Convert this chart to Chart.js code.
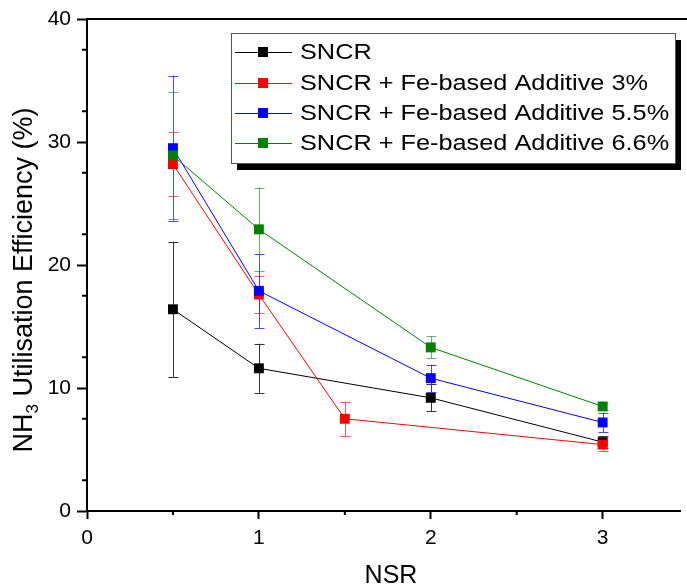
<!DOCTYPE html>
<html lang="en">
<head>
    <meta charset="UTF-8">
    <title>NH3 Utilisation Efficiency vs NSR</title>
    <style>
        html, body {
            margin: 0;
            padding: 0;
            background-color: #ffffff;
        }
        .chart-container {
            position: relative;
            width: 687px;
            height: 587px;
        }
    </style>
</head>
<body>
    <div class="chart-container">
        <canvas id="nsrChart"></canvas>
    </div>
    <script src="https://cdn.jsdelivr.net/npm/chart.js"></script>
    <script>
        // values (NSR on x, efficiency % on y, +/- error)
        const sncrNsr = [0.5, 1, 2, 3];
        const sncrEff = [16.4, 11.6, 9.2, 5.6];
        const sncrErr = [5.5, 2.0, 1.1, 0.5];

        const fe3Nsr = [0.5, 1, 1.5, 3];
        const fe3Eff = [28.2, 17.6, 7.5, 5.4];
        const fe3Err = [2.6, 1.5, 1.4, 0.5];

        const fe55Nsr = [0.5, 1, 2, 3];
        const fe55Eff = [29.5, 17.9, 10.8, 7.2];
        const fe55Err = [5.9, 3.0, 1.1, 0.8];

        const fe66Nsr = [0.5, 1, 2, 3];
        const fe66Eff = [28.9, 22.9, 13.3, 8.5];
        const fe66Err = [5.2, 3.4, 0.9, 0.3];

        const seriesLabels = [
            'SNCR',
            'SNCR + Fe-based Additive 3%',
            'SNCR + Fe-based Additive 5.5%',
            'SNCR + Fe-based Additive 6.6%'
        ];
        const xTicks = [0, 1, 2, 3];
        const yTicks = [0, 10, 20, 30, 40];

        const FONT = 'Arial, "Liberation Sans", sans-serif';

        function points(xs, ys) {
            return xs.map((x, i) => ({ x: x, y: ys[i] }));
        }

        function makeSet(label, xs, ys, errs, color, errColor, order) {
            return {
                label: label,
                data: points(xs, ys),
                errors: errs,
                errColor: errColor,
                showLine: true,
                borderColor: color,
                backgroundColor: color,
                borderWidth: 1,
                pointStyle: 'rect',
                pointRadius: 7,
                pointHoverRadius: 7,
                pointBorderWidth: 0,
                order: order
            };
        }

        // error bars, minor ticks, titles, frame and boxed legend
        const decor = {
            id: 'decor',
            beforeDatasetsDraw(chart) {
                const ctx = chart.ctx;
                const xs = chart.scales.x, ys = chart.scales.y;
                ctx.save();
                ctx.lineWidth = 1;
                chart.data.datasets.forEach(ds => {
                    ctx.strokeStyle = ds.errColor;
                    ds.data.forEach((p, i) => {
                        const e = ds.errors[i];
                        const px = Math.round(xs.getPixelForValue(p.x)) + 0.5;
                        const top = ys.getPixelForValue(p.y + e);
                        const bot = ys.getPixelForValue(p.y - e);
                        ctx.beginPath();
                        ctx.moveTo(px, top);
                        ctx.lineTo(px, bot);
                        ctx.moveTo(px - 5, Math.round(top) + 0.5);
                        ctx.lineTo(px + 5, Math.round(top) + 0.5);
                        ctx.moveTo(px - 5, Math.round(bot) + 0.5);
                        ctx.lineTo(px + 5, Math.round(bot) + 0.5);
                        ctx.stroke();
                    });
                });
                ctx.restore();
            },
            afterDraw(chart) {
                const ctx = chart.ctx;
                const area = chart.chartArea;
                const xs = chart.scales.x, ys = chart.scales.y;
                ctx.save();

                // top frame line
                ctx.strokeStyle = '#000';
                ctx.lineWidth = 2;
                ctx.beginPath();
                ctx.moveTo(area.left - 1, area.top);
                ctx.lineTo(chart.width, area.top);
                ctx.stroke();

                // minor ticks
                ctx.beginPath();
                for (let v = 2.5; v < 40; v += 5) {
                    const py = ys.getPixelForValue(v);
                    ctx.moveTo(area.left, py);
                    ctx.lineTo(area.left - 5, py);
                }
                for (let v = 0.5; v < 3.45; v += 1) {
                    const px = xs.getPixelForValue(v);
                    ctx.moveTo(px, area.bottom);
                    ctx.lineTo(px, area.bottom + 4);
                }
                ctx.stroke();

                // axis titles
                ctx.fillStyle = '#000';
                ctx.textBaseline = 'alphabetic';
                ctx.font = '25px ' + FONT;
                ctx.textAlign = 'center';
                ctx.fillText('NSR', (area.left + chart.width) / 2 + 4, 583);

                ctx.save();
                ctx.translate(32, 280);
                ctx.rotate(-Math.PI / 2);
                const big = '27px ' + FONT, small = '17px ' + FONT;
                ctx.font = big;
                const w1 = ctx.measureText('NH').width;
                const w3 = ctx.measureText(' Utilisation Efficiency (%)').width;
                ctx.font = small;
                const w2 = ctx.measureText('3').width;
                let x0 = -(w1 + w2 + w3) / 2;
                ctx.textAlign = 'left';
                ctx.font = big;
                ctx.fillText('NH', x0, 0);
                ctx.font = small;
                ctx.fillText('3', x0 + w1, 6);
                ctx.font = big;
                ctx.fillText(' Utilisation Efficiency (%)', x0 + w1 + w2, 0);
                ctx.restore();

                // legend box with drop shadow
                const lx = 231, ly = 33, lw = 444, lh = 130;
                ctx.fillStyle = '#000';
                ctx.fillRect(lx + 6, ly + 7, lw, lh);
                ctx.fillStyle = '#fff';
                ctx.fillRect(lx, ly, lw, lh);
                ctx.strokeStyle = '#555';
                ctx.lineWidth = 1;
                ctx.strokeRect(lx + 0.5, ly + 0.5, lw, lh);

                const rowY = [52, 83, 113, 143];
                chart.data.datasets.forEach((ds, i) => {
                    const y = rowY[i];
                    ctx.strokeStyle = ds.borderColor;
                    ctx.lineWidth = 1;
                    ctx.beginPath();
                    ctx.moveTo(235, y + 0.5);
                    ctx.lineTo(292, y + 0.5);
                    ctx.stroke();
                    ctx.fillStyle = ds.backgroundColor;
                    ctx.fillRect(258, y - 5, 10, 10);
                    ctx.save();
                    ctx.translate(300, y);
                    ctx.scale(1.15, 1);
                    ctx.fillStyle = '#000';
                    ctx.font = '22px ' + FONT;
                    ctx.textAlign = 'left';
                    ctx.textBaseline = 'middle';
                    ctx.fillText(ds.label, 0, 1);
                    ctx.restore();
                });

                ctx.restore();
            }
        };

        document.addEventListener('DOMContentLoaded', () => {
            const ctx = document.getElementById('nsrChart').getContext('2d');
            new Chart(ctx, {
                type: 'scatter',
                data: {
                    datasets: [
                        makeSet(seriesLabels[0], sncrNsr, sncrEff, sncrErr, '#000000', '#333333', 4),
                        makeSet(seriesLabels[1], fe3Nsr, fe3Eff, fe3Err, '#ff0000', 'rgba(230,40,40,0.75)', 3),
                        makeSet(seriesLabels[2], fe55Nsr, fe55Eff, fe55Err, '#0000ff', 'rgba(40,40,255,0.85)', 2),
                        makeSet(seriesLabels[3], fe66Nsr, fe66Eff, fe66Err, '#008000', 'rgba(60,130,60,0.7)', 1)
                    ]
                },
                options: {
                    responsive: true,
                    maintainAspectRatio: false,
                    animation: false,
                    layout: { padding: { top: 19, right: 0, left: 0, bottom: 0 } },
                    plugins: {
                        legend: { display: false },
                        tooltip: { enabled: false }
                    },
                    scales: {
                        x: {
                            type: 'linear',
                            min: 0,
                            max: 3.45,
                            afterFit: s => { s.height = 76; },
                            afterBuildTicks: s => { s.ticks = xTicks.map(v => ({ value: v })); },
                            grid: {
                                drawOnChartArea: false,
                                tickLength: 8,
                                tickWidth: 2,
                                tickColor: '#000'
                            },
                            border: { display: true, color: '#000', width: 2 },
                            ticks: {
                                color: '#000',
                                padding: 7,
                                maxRotation: 0,
                                font: { family: FONT, size: 21 }
                            }
                        },
                        y: {
                            min: 0,
                            max: 40,
                            afterFit: s => { s.width = 87; },
                            afterBuildTicks: s => { s.ticks = yTicks.map(v => ({ value: v })); },
                            grid: {
                                drawOnChartArea: false,
                                tickLength: 10,
                                tickWidth: 2,
                                tickColor: '#000'
                            },
                            border: { display: true, color: '#000', width: 2 },
                            ticks: {
                                color: '#000',
                                padding: 6,
                                font: { family: FONT, size: 21 }
                            }
                        }
                    }
                },
                plugins: [decor]
            });
        });
    </script>
</body>
</html>
